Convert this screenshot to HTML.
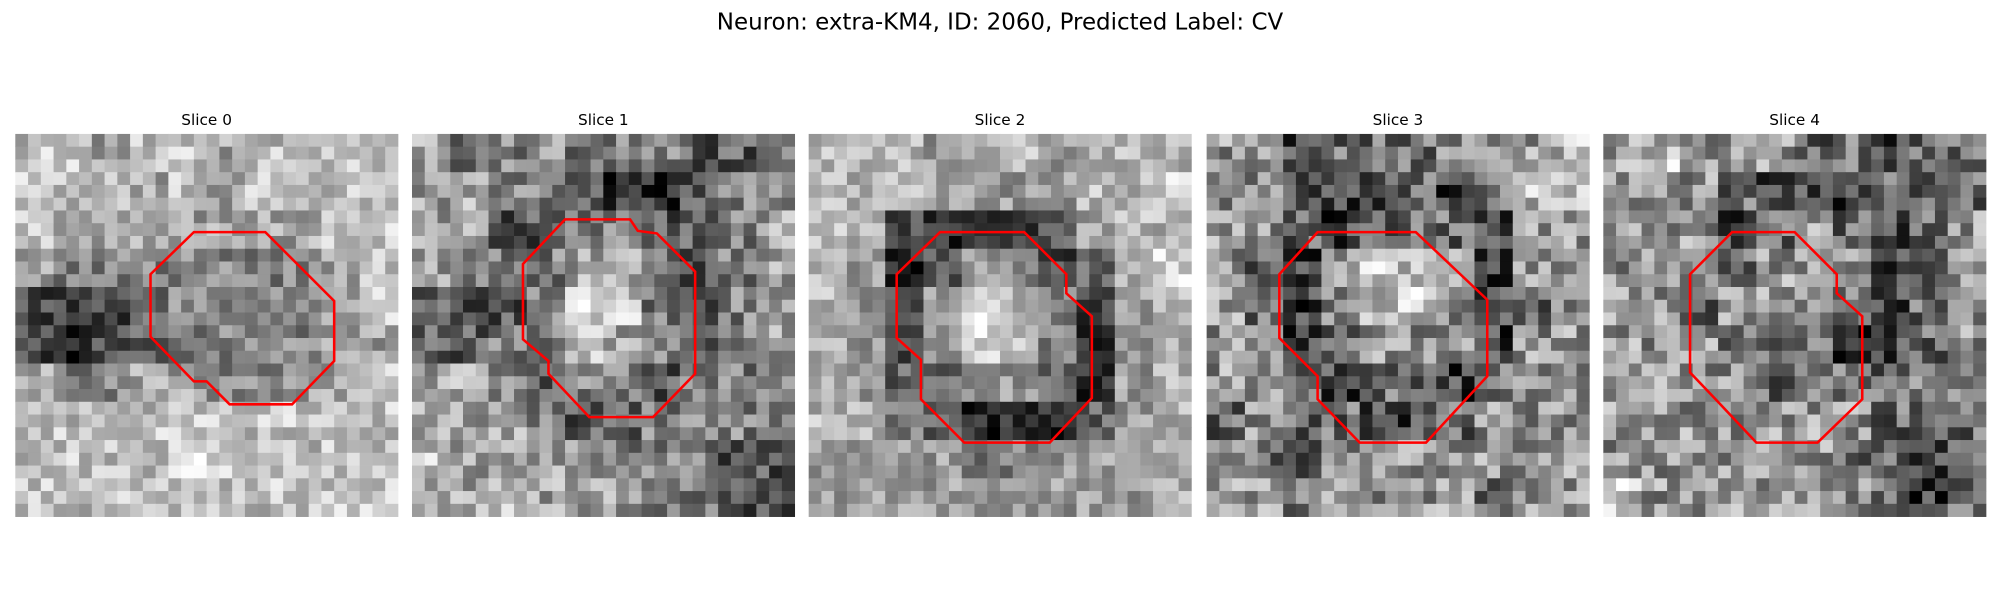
<!DOCTYPE html>
<html><head><meta charset="utf-8"><style>
html,body{margin:0;padding:0;background:#fff;}
svg{display:block;}
text{font-family:"DejaVu Sans","Liberation Sans",sans-serif;}
</style></head><body>
<svg id="fig" width="2000" height="600" viewBox="0 0 1568 470.4" xmlns="http://www.w3.org/2000/svg">
<rect width="1568" height="470.4" fill="#fff"/>
<text x="784" y="23" font-size="18" text-anchor="middle">Neuron: extra-KM4, ID: 2060, Predicted Label: CV</text>
<g id="panels"></g>
</svg>
<script>
const sliceTitles = ["Slice 0","Slice 1","Slice 2","Slice 3","Slice 4"];
const panelLeft = [12,323,634,946,1257];
// coarse 10x10 brightness grids (0 dark .. 9 light)
const slice0 = [
[7,7,6,7,7,6,7,7,7,7],[7,7,7,6,7,6,7,7,7,7],[7,6,6,6,6,6,6,6,7,7],[6,5,5,5,5,5,5,5,6,7],
[3,3,3,4,5,5,5,5,6,7],[3,2,3,4,5,5,5,5,6,6],[6,5,5,6,6,5,5,6,6,7],[7,7,7,7,7,7,7,7,7,7],
[7,7,7,7,8,7,7,7,7,7],[7,7,7,7,7,7,7,7,7,7]];
const slice1 = [
[6,5,5,6,5,5,5,4,4,5],[6,6,5,5,4,3,3,4,5,5],[6,6,4,4,5,5,4,4,5,6],[6,5,5,5,6,6,5,4,5,6],
[4,3,4,5,7,7,5,4,5,6],[4,4,5,5,7,6,5,4,5,6],[6,6,5,4,5,5,4,5,5,5],[6,6,6,5,4,4,5,5,5,5],
[7,6,6,6,6,5,5,5,4,4],[6,6,7,6,6,6,5,5,4,4]];
const slice2 = [
[7,7,7,6,7,7,6,7,7,7],[7,7,7,6,6,6,6,7,7,8],[7,7,3,2,2,3,4,6,7,7],[7,6,2,4,6,5,3,4,7,8],
[7,6,3,6,8,7,5,3,6,7],[7,6,3,6,8,7,5,2,6,7],[7,6,4,4,6,6,4,2,6,7],[7,7,5,4,2,2,2,4,6,7],
[6,6,6,6,5,5,6,6,6,6],[6,6,6,6,6,6,6,6,6,7]];
const slice3 = [
[6,6,4,5,5,5,6,6,6,7],[6,6,4,4,4,5,4,5,7,7],[6,6,5,4,5,5,5,4,6,6],[6,5,4,6,7,7,6,4,6,6],
[6,5,4,6,7,7,6,4,5,6],[6,6,4,5,6,6,6,4,6,6],[6,6,5,4,5,5,4,5,6,6],[5,6,5,5,4,4,5,6,6,6],
[6,5,5,6,6,6,6,6,6,6],[6,6,5,6,6,6,6,5,6,6]];
const slice4 = [
[6,7,6,6,6,5,5,4,5,5],[6,6,6,5,4,4,4,5,5,5],[6,6,6,4,5,6,5,4,5,6],[6,6,5,5,6,6,6,4,5,6],
[6,6,5,6,6,6,5,4,5,6],[6,6,6,5,5,5,4,4,5,6],[6,6,6,6,5,5,5,5,6,6],[6,6,6,6,6,6,6,5,5,5],
[6,6,6,6,6,6,5,5,4,5],[7,6,6,6,6,6,6,5,4,5]];
const grids = [slice0,slice1,slice2,slice3,slice4];
// contour vertices (figure coords, x relative to panel left, y absolute)
const contour0 = [[140,182],[196,182],[250,236],[250,283],[217,317],[168,317],[150,299],[140,299],[106,264],[106,215]];
const contour1 = [[120,172],[171,172],[177,181],[192,183],[222,213],[222,293],[189,327],[139,327],[107,293],[107,283],[87,266],[87,207]];
const contour2 = [[103,182],[169,182],[202,215],[202,230],[222,248],[222,312],[189,347],[122,347],[88,313],[88,282],[69,265],[69,215]];
const contour3 = [[87,182],[164,182],[220,235],[220,295],[172,347],[120,347],[87,313],[87,295],[57,265],[57,215]];
const contour4 = [[101,182],[150,182],[183,215],[183,230],[203,248],[203,313],[168,347],[120,347],[88,313],[68,292],[68,215]];
const contours = [contour0,contour1,contour2,contour3,contour4];

const NS="http://www.w3.org/2000/svg";
const root=document.getElementById('panels');
const top0=105, size=300, fine=30, cell=size/fine;
function hash(a,b,c){let h=(a*374761393+b*668265263+c*2147483647)|0;h=(h^(h>>>13))*1274126177|0;h=h^(h>>>16);return ((h>>>0)%1000)/1000;}
grids.forEach((g,p)=>{
  const x0=panelLeft[p];
  const grp=document.createElementNS(NS,'g');
  
  
  root.appendChild(grp);
  const vals=[];
  let mn=1e9,mx=-1e9;
  for(let r=0;r<fine;r++)for(let c=0;c<fine;c++){
    const v=g[Math.floor(r/3)][Math.floor(c/3)]+(hash(p,r,c)-0.5)*3.2;
    vals.push(v);mn=Math.min(mn,v);mx=Math.max(mx,v);
  }
  for(let r=0;r<fine;r++)for(let c=0;c<fine;c++){
    const v=vals[r*fine+c];
    const gray=Math.round((v-mn)/(mx-mn)*255);
    const rc=document.createElementNS(NS,'rect');
    rc.setAttribute('x',x0+c*cell);rc.setAttribute('y',top0+r*cell);
    rc.setAttribute('width',cell+0.3);rc.setAttribute('height',cell+0.3);
    rc.setAttribute('fill',`rgb(${gray},${gray},${gray})`);
    
    
    grp.appendChild(rc);
  }
  const pl=document.createElementNS(NS,'polygon');
  pl.setAttribute('points',contours[p].map(q=>(x0+q[0])+','+q[1]).join(' '));
  pl.setAttribute('fill','none');pl.setAttribute('stroke','#ff0000');pl.setAttribute('stroke-width','2');
  
  
  grp.appendChild(pl);
  const t=document.createElementNS(NS,'text');
  t.setAttribute('x',x0+150);t.setAttribute('y',98);t.setAttribute('font-size','12');t.setAttribute('text-anchor','middle');
  t.textContent=sliceTitles[p];
  
  
  grp.appendChild(t);
});
</script>
</body></html>
